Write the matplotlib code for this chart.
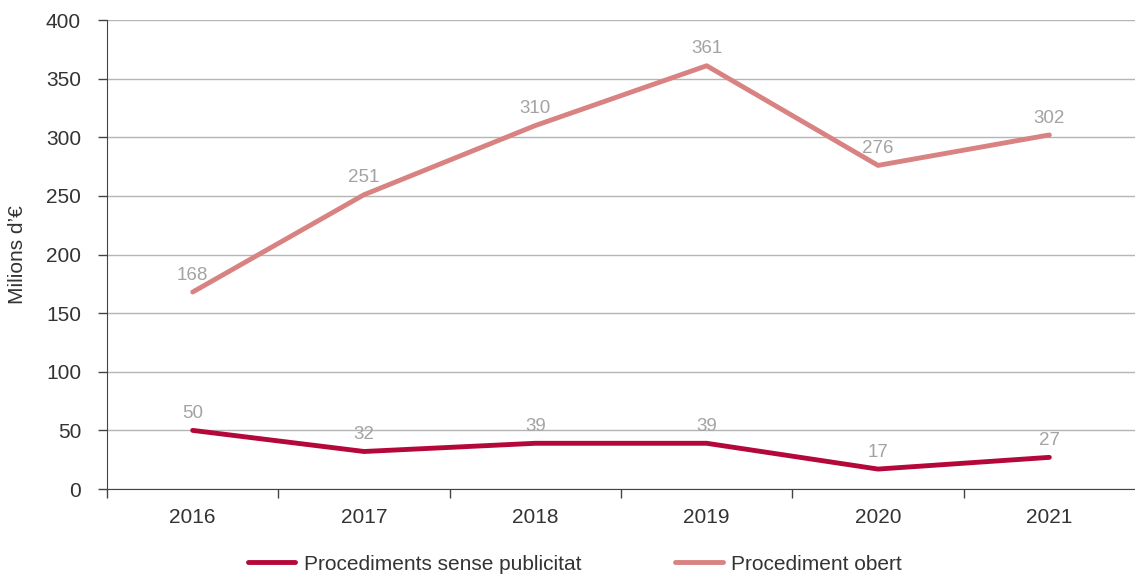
import matplotlib.pyplot as plt

years = ["2016", "2017", "2018", "2019", "2020", "2021"]
sense_publicitat = [50, 32, 39, 39, 17, 27]
obert = [168, 251, 310, 361, 276, 302]

plt.rcParams['font.family'] = ['Liberation Sans', 'DejaVu Sans']

dark_red = '#b5083a'
light_red = '#d98282'
label_grey = '#a3a3a3'
text_col = '#333333'

fig = plt.figure(figsize=(11.35, 5.77), dpi=100)
ax = fig.add_axes([0.0943, 0.1525, 0.9057, 0.8128])

x = list(range(len(years)))
ax.plot(x, sense_publicitat, color=dark_red, lw=3.5, solid_capstyle='round',
        label='Procediments sense publicitat', zorder=3)
ax.plot(x, obert, color=light_red, lw=3.5, solid_capstyle='round',
        label='Procediment obert', zorder=3)

# value labels above each point
for series in (sense_publicitat, obert):
    for xi, v in zip(x, series):
        ax.annotate(str(v), (xi, v), xytext=(0, 6), textcoords='offset points',
                    ha='center', va='bottom', fontsize=13.5, color=label_grey)

ax.set_xlim(-0.5, len(years) - 0.5)
ax.set_ylim(0, 400)
ax.set_yticks(range(0, 401, 50))
ax.yaxis.grid(True, color='#b5b5b5', lw=1)
ax.set_axisbelow(True)

# category ticks between years, labels centred
ax.set_xticks([i - 0.5 for i in range(len(years))])
ax.set_xticklabels([])
ax.set_xticks(x, minor=True)
ax.set_xticklabels(years, minor=True)
ax.tick_params(axis='x', which='major', length=6.5, width=1, color='#444444')
ax.tick_params(axis='x', which='minor', length=0, pad=14, labelsize=15, labelcolor=text_col)
ax.tick_params(axis='y', length=6.7, width=1, color='#444444', labelsize=15,
               labelcolor=text_col, pad=12)

for s in ('top', 'right'):
    ax.spines[s].set_visible(False)
ax.spines['left'].set_color('#444444')
ax.spines['bottom'].set_color('#444444')

ax.set_ylabel("Milions d’€", fontsize=15, color=text_col)
ax.yaxis.set_label_coords(-0.078, 0.5)

ax.legend(loc='upper center', bbox_to_anchor=(0.455, -0.1), ncol=2, frameon=False,
          fontsize=15, handlelength=2.3, handletextpad=0.4, columnspacing=4.5,
          labelcolor=text_col)

fig.savefig('out.png', dpi=100)
